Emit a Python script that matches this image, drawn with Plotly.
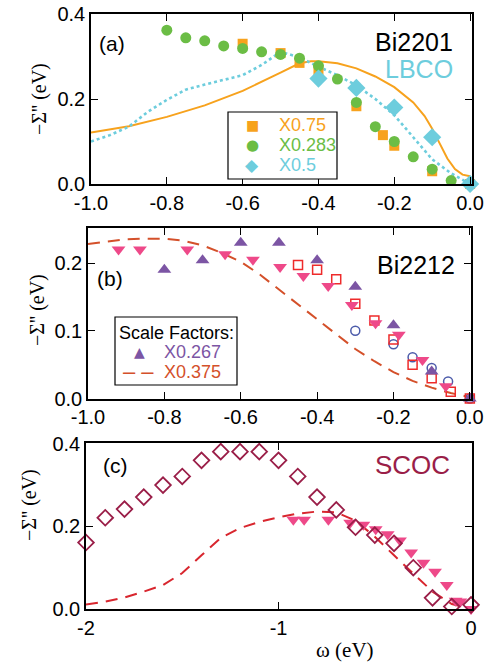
import plotly.graph_objects as go

# ---------------- Panel (a): Bi2201 / LBCO ----------------
a_sq_x = [-0.6, -0.5, -0.45, -0.4, -0.3, -0.23, -0.2, -0.1, 0.0]
a_sq_y = [0.33, 0.308, 0.285, 0.268, 0.183, 0.115, 0.09, 0.03, 0.0]

a_ci_x = [-0.8, -0.75, -0.7, -0.65, -0.6, -0.55, -0.5, -0.45, -0.4, -0.35, -0.3, -0.25, -0.2, -0.15, -0.1, -0.05, 0.0]
a_ci_y = [0.362, 0.344, 0.337, 0.325, 0.319, 0.311, 0.305, 0.296, 0.278, 0.247, 0.192, 0.135, 0.1, 0.064, 0.035, 0.008, 0.0]

a_di_x = [-0.4, -0.3, -0.2, -0.1, 0.0]
a_di_y = [0.248, 0.226, 0.18, 0.11, 0.0]

a_solid_x = [-1.0, -0.9, -0.8, -0.7, -0.6, -0.55, -0.5, -0.45, -0.42, -0.4, -0.35, -0.3, -0.25, -0.2, -0.15, -0.12, -0.1, -0.08, -0.06, -0.04, -0.02, 0.0]
a_solid_y = [0.121, 0.136, 0.158, 0.185, 0.219, 0.24, 0.262, 0.284, 0.289, 0.289, 0.284, 0.272, 0.253, 0.228, 0.192, 0.16, 0.13, 0.095, 0.06, 0.035, 0.022, 0.018]

a_dot_x = [-1.0, -0.95, -0.9, -0.85, -0.8, -0.75, -0.7, -0.65, -0.6, -0.55, -0.5, -0.45, -0.4, -0.35, -0.3, -0.25, -0.2, -0.15, -0.1, -0.05, 0.0]
a_dot_y = [0.1, 0.115, 0.135, 0.17, 0.198, 0.222, 0.234, 0.245, 0.256, 0.28, 0.311, 0.298, 0.276, 0.256, 0.232, 0.2, 0.162, 0.11, 0.058, 0.025, 0.0]

# ---------------- Panel (b): Bi2212 ----------------
b_up_x = [-0.8, -0.7, -0.6, -0.5, -0.4, -0.3, -0.2, -0.1, 0.0]
b_up_y = [0.19, 0.204, 0.23, 0.23, 0.204, 0.165, 0.108, 0.04, 0.0]

b_dn_x = [-0.92, -0.864, -0.74, -0.641, -0.568, -0.497, -0.436, -0.371, -0.309, -0.247, -0.186, -0.124, -0.063]
b_dn_y = [0.22, 0.22, 0.22, 0.213, 0.205, 0.194, 0.181, 0.166, 0.138, 0.111, 0.094, 0.057, 0.018]

b_sq_x = [-0.45, -0.4, -0.35, -0.3, -0.25, -0.2, -0.15, -0.1, -0.05, 0.0]
b_sq_y = [0.197, 0.19, 0.176, 0.14, 0.115, 0.087, 0.05, 0.03, 0.01, 0.0]

b_ci_x = [-0.3, -0.2, -0.15, -0.1, -0.057, 0.0]
b_ci_y = [0.1, 0.08, 0.061, 0.045, 0.025, 0.0]

b_dash_x = [-1.0, -0.95, -0.9, -0.85, -0.8, -0.75, -0.7, -0.65, -0.6, -0.55, -0.5, -0.45, -0.4, -0.35, -0.3, -0.25, -0.2, -0.15, -0.1, -0.05, 0.0]
b_dash_y = [0.228, 0.232, 0.235, 0.236, 0.236, 0.233, 0.226, 0.215, 0.202, 0.183, 0.161, 0.138, 0.116, 0.094, 0.073, 0.055, 0.039, 0.026, 0.016, 0.008, 0.002]

# ---------------- Panel (c): SCOC ----------------
c_di_x = [-2.0, -1.9, -1.8, -1.7, -1.6, -1.5, -1.4, -1.3, -1.2, -1.1, -1.0, -0.9, -0.8, -0.7, -0.6, -0.5, -0.4, -0.3, -0.2, -0.1, 0.0]
c_di_y = [0.161, 0.221, 0.242, 0.271, 0.3, 0.321, 0.36, 0.381, 0.381, 0.381, 0.36, 0.321, 0.271, 0.24, 0.198, 0.179, 0.159, 0.1, 0.027, 0.006, 0.01]

c_dn_x = [-0.923, -0.867, -0.741, -0.628, -0.559, -0.495, -0.433, -0.369, -0.311, -0.247, -0.187, -0.126, -0.08, -0.055, 0.0]
c_dn_y = [0.216, 0.216, 0.216, 0.209, 0.204, 0.193, 0.181, 0.166, 0.137, 0.112, 0.09, 0.058, 0.02, 0.018, 0.0]

c_dash_x = [-2.0, -1.9, -1.8, -1.7, -1.6, -1.5, -1.4, -1.3, -1.2, -1.1, -1.0, -0.9, -0.8, -0.7, -0.6, -0.5, -0.4, -0.3, -0.2, -0.1, 0.0]
c_dash_y = [0.011, 0.018, 0.028, 0.042, 0.058, 0.087, 0.13, 0.172, 0.196, 0.211, 0.222, 0.231, 0.236, 0.234, 0.214, 0.175, 0.13, 0.085, 0.042, 0.012, 0.0]

# tick labels
ab_xticks = [-1.0, -0.8, -0.6, -0.4, -0.2, 0.0]
ab_xtext = ["-1.0", "-0.8", "-0.6", "-0.4", "-0.2", "0.0"]
a_yticks = [0.0, 0.2, 0.4]
b_yticks = [0.0, 0.1, 0.2]
c_yticks = [0.0, 0.2, 0.4]
c_xticks = [-2, -1, 0]
c_xtext = ["-2", "-1", "0"]

# legend labels
a_legend_names = ["X0.75", "X0.283", "X0.5"]
b_legend_title = "Scale Factors:"
b_legend_names = ["X0.267", "X0.375"]

# colours
ORANGE = "#F7A21D"
GREEN = "#6BBD45"
LBLUE = "#6DCDDD"
PURPLE = "#7C55A4"
PINK = "#EE4989"
RED = "#EE2B2B"
BLUE = "#4C5BAA"
DASHB = "#D4502A"
DASHC = "#D8262E"
MAROON = "#9A1E48"

W, H = 486, 666
SANS = "Liberation Sans, Arial, Helvetica, sans-serif"
SERIF = "Liberation Serif, Times New Roman, serif"
GLYPH = "DejaVu Sans, sans-serif"


def px_dom_x(l, r):
    return [l / W, r / W]


def px_dom_y(top, bottom):
    return [1 - bottom / H, 1 - top / H]


def px(xp):
    return xp / W


def py(yp):
    return 1 - yp / H


fig = go.Figure()

# panel a
fig.add_trace(go.Scatter(x=a_solid_x, y=a_solid_y, mode="lines", line=dict(color=ORANGE, width=2),
                         xaxis="x", yaxis="y"))
fig.add_trace(go.Scatter(x=a_dot_x, y=a_dot_y, mode="lines", line=dict(color=LBLUE, width=2.6, dash="dot"),
                         xaxis="x", yaxis="y"))
fig.add_trace(go.Scatter(x=a_sq_x, y=a_sq_y, mode="markers", marker=dict(symbol="square", size=10, color=ORANGE),
                         xaxis="x", yaxis="y", cliponaxis=False))
fig.add_trace(go.Scatter(x=a_ci_x, y=a_ci_y, mode="markers", marker=dict(symbol="circle", size=11, color=GREEN),
                         xaxis="x", yaxis="y", cliponaxis=False))
fig.add_trace(go.Scatter(x=a_di_x, y=a_di_y, mode="markers", marker=dict(symbol="diamond", size=14, color=LBLUE),
                         xaxis="x", yaxis="y", cliponaxis=False))

# panel b
fig.add_trace(go.Scatter(x=b_dash_x, y=b_dash_y, mode="lines", line=dict(color=DASHB, width=2, dash="12px,8px"),
                         xaxis="x2", yaxis="y2"))
fig.add_trace(go.Scatter(x=b_ci_x, y=b_ci_y, mode="markers", marker=dict(symbol="circle-open", size=9, color=BLUE, line=dict(width=1.5)),
                         xaxis="x2", yaxis="y2", cliponaxis=False))
fig.add_trace(go.Scatter(x=b_sq_x, y=b_sq_y, mode="markers", marker=dict(symbol="square-open", size=9, color=RED, line=dict(width=1.5)),
                         xaxis="x2", yaxis="y2", cliponaxis=False))
fig.add_trace(go.Scatter(x=b_dn_x, y=b_dn_y, mode="markers", marker=dict(symbol="triangle-down", size=12, color=PINK),
                         xaxis="x2", yaxis="y2", cliponaxis=False))
fig.add_trace(go.Scatter(x=b_up_x, y=b_up_y, mode="markers", marker=dict(symbol="triangle-up", size=12, color=PURPLE),
                         xaxis="x2", yaxis="y2", cliponaxis=False))

# panel c
fig.add_trace(go.Scatter(x=c_dash_x, y=c_dash_y, mode="lines", line=dict(color=DASHC, width=2, dash="12px,8px"),
                         xaxis="x3", yaxis="y3"))
fig.add_trace(go.Scatter(x=c_dn_x, y=c_dn_y, mode="markers", marker=dict(symbol="triangle-down", size=12, color=PINK),
                         xaxis="x3", yaxis="y3", cliponaxis=False))
fig.add_trace(go.Scatter(x=c_di_x, y=c_di_y, mode="markers", marker=dict(symbol="diamond-open", size=12, color=MAROON, line=dict(width=1.8)),
                         xaxis="x3", yaxis="y3", cliponaxis=False))

axis_common = dict(showgrid=False, zeroline=False, showline=True, linecolor="black", linewidth=1.5,
                   mirror="ticks", ticks="inside", ticklen=7, tickwidth=1.3, tickcolor="black", automargin=False,
                   tickfont=dict(family=SANS, size=20, color="black"))

fig.update_layout(
    width=W, height=H, margin=dict(l=0, r=0, t=0, b=0, autoexpand=False),
    paper_bgcolor="white", plot_bgcolor="white", showlegend=False,
    xaxis=dict(axis_common, domain=px_dom_x(91, 472), range=[-1.0, 0.005], tickvals=ab_xticks, ticktext=ab_xtext, anchor="y"),
    yaxis=dict(axis_common, domain=px_dom_y(14, 184), range=[0, 0.4], tickvals=a_yticks, tickformat=".1f", anchor="x"),
    xaxis2=dict(axis_common, domain=px_dom_x(88, 471), range=[-1.0, 0.003], tickvals=ab_xticks, ticktext=ab_xtext, anchor="y2"),
    yaxis2=dict(axis_common, domain=px_dom_y(228, 398.5), range=[0, 0.2517], tickvals=b_yticks, tickformat=".1f", anchor="x2"),
    xaxis3=dict(axis_common, domain=px_dom_x(86, 472), range=[-2.0, 0.005], tickvals=c_xticks, ticktext=c_xtext, anchor="y3"),
    yaxis3=dict(axis_common, domain=px_dom_y(443, 609), range=[0, 0.402], tickvals=c_yticks, tickformat=".1f", anchor="x3"),
)

shapes = [
    dict(type="rect", xref="paper", yref="paper", x0=px(228), x1=px(337), y0=py(179), y1=py(112),
         line=dict(color="black", width=1.2), fillcolor="white", layer="above"),
    dict(type="rect", xref="paper", yref="paper", x0=px(115), x1=px(237), y0=py(385), y1=py(317),
         line=dict(color="black", width=1.2), fillcolor="white", layer="above"),
]
fig.update_layout(shapes=shapes)

ann = []
ylab = "\u2212\u03a3'' (eV)"
for yc, xc in [(99, 39), (310, 37), (505, 30)]:
    ann.append(dict(text=ylab, xref="paper", yref="paper", x=px(xc), y=py(yc), xanchor="center", yanchor="middle",
                    textangle=-90, showarrow=False, font=dict(family=SERIF, size=20, color="black")))
ann.append(dict(text="\u03c9 (eV)", xref="paper", yref="paper", x=px(345), y=py(650), xanchor="center", yanchor="middle",
                showarrow=False, font=dict(family=SERIF, size=21, color="black")))
# panel labels
for txt, xl, yc in [("(a)", 97, 43), ("(b)", 95, 278), ("(c)", 101, 465)]:
    ann.append(dict(text=txt, xref="paper", yref="paper", x=px(xl), y=py(yc), xanchor="left", yanchor="middle",
                    showarrow=False, font=dict(family=SANS, size=21, color="black")))
for txt, col, xr, yc, sz in [("Bi2201", "black", 455, 42, 25), ("LBCO", LBLUE, 455, 69, 25),
                             ("Bi2212", "black", 457, 265, 25), ("SCOC", MAROON, 452, 465, 26)]:
    ann.append(dict(text=txt, xref="paper", yref="paper", x=px(xr), y=py(yc), xanchor="right", yanchor="middle",
                    showarrow=False, font=dict(family=SANS, size=sz, color=col)))

# legend (a)
for (glyph, gsize, col), name, yc in zip([("\u25a0", 14, ORANGE), ("\u25cf", 15, GREEN), ("\u25c6", 17, LBLUE)],
                                          a_legend_names, [125, 145, 165]):
    ann.append(dict(text=glyph, xref="paper", yref="paper", x=px(252), y=py(yc), xanchor="center", yanchor="middle",
                    showarrow=False, font=dict(family=GLYPH, size=gsize, color=col)))
    ann.append(dict(text=name, xref="paper", yref="paper", x=px(277), y=py(yc), xanchor="left", yanchor="middle",
                    showarrow=False, font=dict(family=SANS, size=18, color=col)))

# legend (b)
ann.append(dict(text=b_legend_title, xref="paper", yref="paper", x=px(117), y=py(333), xanchor="left", yanchor="middle",
                showarrow=False, font=dict(family=SANS, size=18, color="black")))
ann.append(dict(text="\u25b2", xref="paper", yref="paper", x=px(139), y=py(352), xanchor="center", yanchor="middle",
                showarrow=False, font=dict(family=GLYPH, size=14, color=PURPLE)))
ann.append(dict(text="\u2013 \u2013", xref="paper", yref="paper", x=px(138), y=py(372), xanchor="center", yanchor="middle",
                showarrow=False, font=dict(family=SANS, size=22, color=DASHB)))
for name, col, yc in zip(b_legend_names, [PURPLE, DASHB], [352, 372]):
    ann.append(dict(text=name, xref="paper", yref="paper", x=px(162), y=py(yc), xanchor="left", yanchor="middle",
                    showarrow=False, font=dict(family=SANS, size=18, color=col)))

fig.update_layout(annotations=ann)

fig.write_html("out.html")
